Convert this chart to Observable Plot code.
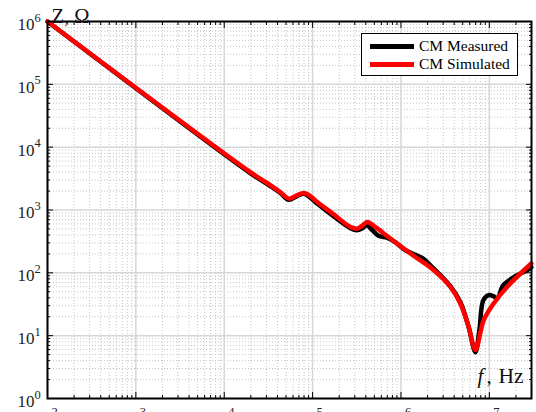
<!DOCTYPE html>
<html>
<head>
<meta charset="utf-8">
<script src="https://cdn.jsdelivr.net/npm/d3@7"></script>
<script src="https://cdn.jsdelivr.net/npm/@observablehq/plot@0.6"></script>
<style>
html, body { margin: 0; padding: 0; background: #fff; overflow: hidden; }
#wrap { position: relative; width: 536px; height: 412px; overflow: hidden; }
#legend { position: absolute; left: 361px; top: 33px; width: 155px; height: 41px; border: 1px solid #000; background: #fff; font-family: "Liberation Serif", serif; font-size: 15.5px; color: #000; }
.sw { position: absolute; left: 8px; width: 44px; height: 5px; }
.lt { position: absolute; left: 57px; line-height: 16px; white-space: nowrap; }
</style>
</head>
<body>
<div id="wrap"></div>
<script>
// Common-mode impedance |Z| (Ω) versus frequency f (Hz)
const measuredF = [100, 19900, 33500, 43500, 53600, 65900, 80200, 94800, 113800, 172600, 268500, 314100, 367300, 407400, 476400, 557200, 703100, 867000, 1125000, 1459000, 1750000, 2328000, 3622000, 4699000, 5794000, 6950000, 7709000, 8551000, 9817000, 11090000, 12300000, 14390000, 19680000, 26850000, 29850000];
const measuredZ = [1000000, 3828, 2382, 1845, 1452, 1652, 1811, 1563, 1256, 794, 512, 475, 512, 571, 475, 389, 361, 306, 229, 194, 171, 118, 61.2, 34.1, 14.2, 5.47, 12.2, 36.6, 44.1, 42.5, 39.4, 63.5, 88.3, 110, 123];
const simulatedF = [100, 19900, 33500, 43500, 54000, 65900, 79800, 94800, 113000, 172600, 268500, 319900, 367300, 415000, 476400, 639700, 1279000, 2350000, 3622000, 4699000, 5834000, 6950000, 8630000, 11190000, 15850000, 29850000];
const simulatedZ = [1000000, 3972, 2472, 1910, 1517, 1714, 1862, 1652, 1340, 855, 537, 506, 571, 644, 582, 422, 203, 110, 59.7, 32.5, 13.8, 5.9, 17.6, 32.5, 59.7, 140.6];

const seriesNames = ["CM Measured", "CM Simulated"];
const seriesColors = ["#000000", "#ff0000"];
const xMajorTicks = [1e2, 1e3, 1e4, 1e5, 1e6, 1e7];
const yMajorTicks = [1e0, 1e1, 1e2, 1e3, 1e4, 1e5, 1e6];
const xDomain = [100, 3e7];
const yDomain = [1, 1e6];
const yTitle = "Z, Ω";
const xTitleVar = "f";
const xTitleUnit = "Hz";

const measured = measuredF.map((f, i) => ({f, z: measuredZ[i]}));
const simulated = simulatedF.map((f, i) => ({f, z: simulatedZ[i]}));

const xMinor = [];
for (const m of xMajorTicks) for (let k = 2; k <= 9; k++) if (m * k <= xDomain[1]) xMinor.push(m * k);
const yMinor = [];
for (const m of yMajorTicks.slice(0, -1)) for (let k = 2; k <= 9; k++) yMinor.push(m * k);

const exp = d => String(Math.round(Math.log10(d)));
const FONT = "Liberation Serif";

const chart = Plot.plot({
  width: 536,
  height: 412,
  marginLeft: 47,
  marginRight: 5,
  marginTop: 21,
  marginBottom: 14,
  x: {type: "log", domain: xDomain, axis: null},
  y: {type: "log", domain: yDomain, axis: null},
  style: {fontFamily: FONT, background: "white", overflow: "visible", color: "#000"},
  marks: [
    Plot.gridX(xMinor, {stroke: "#c4c4c4", strokeOpacity: 1, strokeWidth: 1, strokeDasharray: "1,2"}),
    Plot.gridY(yMinor, {stroke: "#c4c4c4", strokeOpacity: 1, strokeWidth: 1, strokeDasharray: "1,2"}),
    Plot.gridX(xMajorTicks, {stroke: "#d6d6d6", strokeOpacity: 1, strokeWidth: 1.5}),
    Plot.gridY(yMajorTicks, {stroke: "#d6d6d6", strokeOpacity: 1, strokeWidth: 1.5}),
    Plot.line(measured, {x: "f", y: "z", stroke: seriesColors[0], strokeWidth: 4.5, curve: "catmull-rom"}),
    Plot.line(simulated, {x: "f", y: "z", stroke: seriesColors[1], strokeWidth: 4.5, curve: "catmull-rom"}),
    // inward ticks on all four sides
    Plot.axisX(xMajorTicks, {anchor: "bottom", tickSize: -6, fill: "none", label: null, stroke: "#000"}),
    Plot.axisX(xMinor, {anchor: "bottom", tickSize: -3, fill: "none", label: null, stroke: "#000"}),
    Plot.axisX(xMajorTicks, {anchor: "top", tickSize: -6, fill: "none", label: null, stroke: "#000"}),
    Plot.axisX(xMinor, {anchor: "top", tickSize: -3, fill: "none", label: null, stroke: "#000"}),
    Plot.axisY(yMajorTicks, {anchor: "left", tickSize: -6, fill: "none", label: null, stroke: "#000"}),
    Plot.axisY(yMinor, {anchor: "left", tickSize: -3, fill: "none", label: null, stroke: "#000"}),
    Plot.axisY(yMajorTicks, {anchor: "right", tickSize: -6, fill: "none", label: null, stroke: "#000"}),
    Plot.axisY(yMinor, {anchor: "right", tickSize: -3, fill: "none", label: null, stroke: "#000"}),
    Plot.frame({stroke: "#000", strokeWidth: 2}),
    // y tick labels 10^n
    Plot.text(yMajorTicks, {y: d => d, frameAnchor: "left", text: () => "10", textAnchor: "end", dx: -13, dy: 3, fontSize: 17, fill: "#222"}),
    Plot.text(yMajorTicks, {y: d => d, frameAnchor: "left", text: exp, textAnchor: "start", dx: -13, dy: -4, fontSize: 12.5, fill: "#222"}),
    // x tick labels 10^n (mostly below the visible area, as in the original)
    Plot.text(xMajorTicks, {x: d => d, frameAnchor: "bottom", text: () => "10", textAnchor: "middle", dx: -4, dy: 25, fontSize: 17, fill: "#222"}),
    Plot.text(xMajorTicks, {x: d => d, frameAnchor: "bottom", text: exp, textAnchor: "start", dx: 4, dy: 17, fontSize: 12.5, fill: "#222"}),
    // axis titles
    Plot.text([yTitle], {frameAnchor: "top-left", text: d => d, textAnchor: "start", dx: 4, dy: -13, fontSize: 20.5, fill: "#111"}),
    Plot.text([xTitleVar], {frameAnchor: "bottom-right", text: d => d, textAnchor: "start", dx: -54, dy: -16, fontSize: 21, fontStyle: "italic", fill: "#111"}),
    Plot.text([","], {frameAnchor: "bottom-right", text: d => d, textAnchor: "start", dx: -45, dy: -16, fontSize: 21, fill: "#111"}),
    Plot.text([xTitleUnit], {frameAnchor: "bottom-right", text: d => d, textAnchor: "end", dx: -8, dy: -16, fontSize: 21.5, fill: "#111"})
  ]
});

const wrap = document.getElementById("wrap");
wrap.appendChild(chart);

const legend = document.createElement("div");
legend.id = "legend";
seriesNames.forEach((name, i) => {
  const sw = document.createElement("div");
  sw.className = "sw";
  sw.style.top = (i === 0 ? 9.5 : 27.5) + "px";
  sw.style.background = seriesColors[i];
  const t = document.createElement("div");
  t.className = "lt";
  t.style.top = (i === 0 ? 4 : 22) + "px";
  t.textContent = name;
  legend.appendChild(sw);
  legend.appendChild(t);
});
wrap.appendChild(legend);
</script>
</body>
</html>
